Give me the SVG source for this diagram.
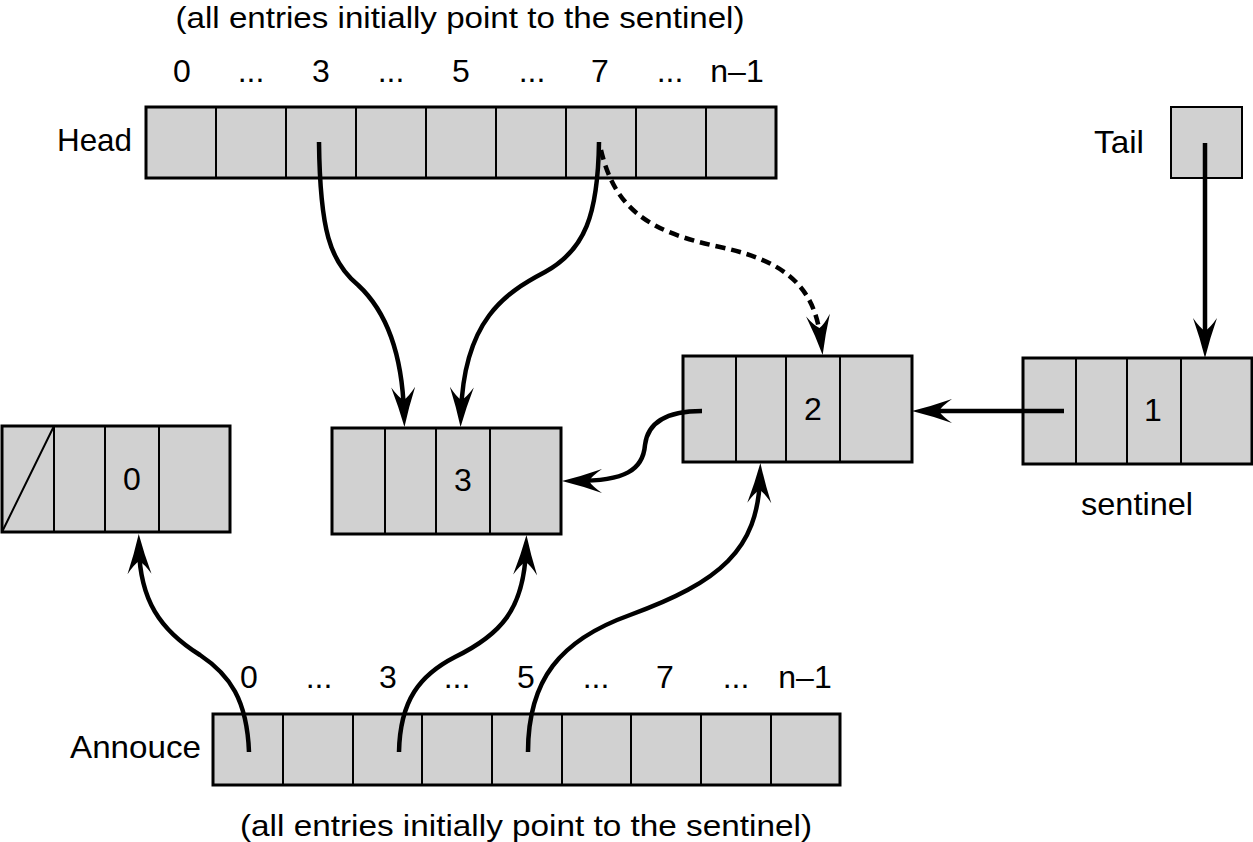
<svg xmlns="http://www.w3.org/2000/svg" width="1253" height="842" viewBox="0 0 1253 842">
<style>
.cell{fill:#d1d1d1;stroke:#000;stroke-width:2}
.box{fill:none;stroke:#000;stroke-width:3}
.div{stroke:#000;stroke-width:2}
text{font-family:"Liberation Sans",Arial,sans-serif;font-size:32px;fill:#000}
.t{font-size:30px}
.c{text-anchor:middle}
.conn{fill:none;stroke:#000;stroke-width:4.5;marker-end:url(#ah)}
.dash{stroke-dasharray:10 6}
</style>
<defs>
<marker id="ah" markerUnits="userSpaceOnUse" markerWidth="42" markerHeight="26" refX="-14" refY="0" orient="auto" overflow="visible">
<path d="M0,0 Q-20,-5 -40,-12 Q-30,-5 -27,0 Q-30,5 -40,12 Q-20,5 0,0 Z" fill="#000"/>
</marker>
</defs>
<rect width="1253" height="842" fill="#fff"/>

<text class="c t" x="460" y="28" textLength="569" lengthAdjust="spacingAndGlyphs">(all entries initially point to the sentinel)</text>

<g id="head-array">
<text x="57" y="151" textLength="75" lengthAdjust="spacingAndGlyphs">Head</text>
<g class="c">
<text x="182" y="82">0</text><text x="251" y="82">...</text><text x="321" y="82">3</text><text x="391" y="82">...</text><text x="461" y="82">5</text><text x="532" y="82">...</text><text x="600" y="82">7</text><text x="670" y="82">...</text><text x="737" y="82">n–1</text>
</g>
<rect class="cell" x="146" y="107" width="630" height="71"/>
<path class="div" d="M216,107V178M286,107V178M356,107V178M426,107V178M496,107V178M566,107V178M636,107V178M706,107V178"/>
<rect class="box" x="146" y="107" width="630" height="71"/>
</g>

<g id="tail">
<text x="1094" y="153" textLength="50" lengthAdjust="spacingAndGlyphs">Tail</text>
<rect class="cell" x="1171" y="107" width="71" height="71"/>
<rect class="box" x="1171" y="107" width="71" height="71" style="stroke-width:2"/>
</g>

<g id="node-sentinel">
<rect class="cell" x="1023" y="358" width="229" height="106"/>
<path class="div" d="M1076,358V464M1127,358V464M1181,358V464"/>
<rect class="box" x="1023" y="358" width="229" height="106"/>
<text class="c" x="1153" y="421">1</text>
<text x="1081" y="515" textLength="112" lengthAdjust="spacingAndGlyphs">sentinel</text>
</g>

<g id="node-2">
<rect class="cell" x="683" y="356" width="229" height="106"/>
<path class="div" d="M736,356V462M786,356V462M840,356V462"/>
<rect class="box" x="683" y="356" width="229" height="106"/>
<text class="c" x="813" y="420">2</text>
</g>

<g id="node-3">
<rect class="cell" x="332" y="428" width="229" height="106"/>
<path class="div" d="M385,428V534M436,428V534M490,428V534"/>
<rect class="box" x="332" y="428" width="229" height="106"/>
<text class="c" x="463" y="491">3</text>
</g>

<g id="node-0">
<rect class="cell" x="2" y="426" width="228" height="106"/>
<path class="div" d="M54,426V532M105,426V532M159,426V532M2,532L54,426"/>
<rect class="box" x="2" y="426" width="228" height="106"/>
<text class="c" x="132" y="490">0</text>
</g>

<g id="announce-array">
<text x="70" y="758" textLength="131" lengthAdjust="spacingAndGlyphs">Annouce</text>
<g class="c">
<text x="249" y="688">0</text><text x="319" y="688">...</text><text x="388" y="688">3</text><text x="457" y="688">...</text><text x="526" y="688">5</text><text x="596" y="688">...</text><text x="665" y="688">7</text><text x="736" y="688">...</text><text x="805" y="688">n–1</text>
</g>
<rect class="cell" x="213" y="714" width="627" height="71"/>
<path class="div" d="M283,714V785M353,714V785M422,714V785M492,714V785M562,714V785M631,714V785M701,714V785M771,714V785"/>
<rect class="box" x="213" y="714" width="627" height="71"/>
<text class="c t" x="526" y="836" textLength="572" lengthAdjust="spacingAndGlyphs">(all entries initially point to the sentinel)</text>
</g>

<g id="connectors">
<path class="conn" d="M319,142 C320,230 330,262 358,285 C385,310 402,350 404,413"/>
<path class="conn" d="M599,142 C598,215 585,250 545,272 C505,293 464,320 461,413"/>
<path class="conn dash" d="M601,150 C615,210 650,232 720,247 C790,262 815,290 821,341"/>
<path class="conn" d="M1205,143 L1205,344"/>
<path class="conn" d="M1064,411 L926,411"/>
<path class="conn" d="M702,411 C670,411 648,420 645,445 C643,470 625,481 576,481"/>
<path class="conn" d="M249,752 C247,700 230,675 200,655 C160,630 140,600 139,548"/>
<path class="conn" d="M399,752 C400,700 420,675 455,657 C500,635 524,610 526,549"/>
<path class="conn" d="M528,752 C528,680 560,640 630,615 C720,582 758,550 760,477"/>
</g>
</svg>
